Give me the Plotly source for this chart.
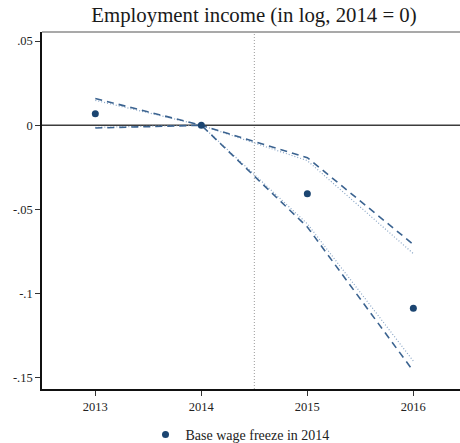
import plotly.graph_objects as go

# Event-study estimates: employment income (log, 2014 = 0)
years = [2013, 2014, 2015, 2016]
estimate = [0.0069, 0.0, -0.0406, -0.1087]

# Confidence bands (dashed) and alternative bands (dotted)
ci_upper_dash = [0.0159, 0.0, -0.0192, -0.0708]
ci_lower_dash = [-0.0016, 0.0, -0.0604, -0.1460]
ci_upper_dot = [0.0148, 0.0, -0.0210, -0.0762]
ci_lower_dot = [-0.0012, 0.0, -0.0585, -0.1400]

y_tick_vals = [0.05, 0.0, -0.05, -0.10, -0.15]
y_tick_text = [".05", "0", "-.05", "-.1", "-.15"]
x_tick_vals = [2013, 2014, 2015, 2016]
x_tick_text = ["2013", "2014", "2015", "2016"]

dash_color = "#3b6390"
dot_color = "#8aa6c6"
marker_color = "#1b4571"
font_family = "Liberation Serif"

fig = go.Figure()

for band in (ci_upper_dot, ci_lower_dot):
    fig.add_trace(go.Scatter(
        x=years, y=band, mode="lines", showlegend=False, hoverinfo="skip",
        line=dict(color=dot_color, width=1.2, dash="1px,2px"),
    ))

for band in (ci_upper_dash, ci_lower_dash):
    fig.add_trace(go.Scatter(
        x=years, y=band, mode="lines", showlegend=False, hoverinfo="skip",
        line=dict(color=dash_color, width=1.6, dash="7px,5px"),
    ))

fig.add_trace(go.Scatter(
    x=years, y=estimate, mode="markers", name="Base wage freeze in 2014",
    marker=dict(color=marker_color, size=7),
))

# Reference lines: zero, treatment timing, and top frame
fig.add_shape(type="line", xref="paper", yref="y", x0=0, x1=1, y0=0, y1=0,
              line=dict(color="#3c3c3c", width=1.6), layer="below")
fig.add_shape(type="line", xref="x", yref="paper", x0=2014.5, x1=2014.5, y0=0, y1=1,
              line=dict(color="#9a9a9a", width=1, dash="1px,2px"), layer="below")
fig.add_shape(type="line", xref="paper", yref="paper", x0=0, x1=1, y0=1, y1=1,
              line=dict(color="#8c8c8c", width=1.5))

fig.update_layout(
    width=460, height=443,
    margin=dict(l=42, r=0, t=32, b=54, autoexpand=False),
    paper_bgcolor="white", plot_bgcolor="white",
    font=dict(family=font_family, color="#222222"),
    title=dict(text="Employment income (in log, 2014 = 0)",
               x=254 / 460, xanchor="center", xref="container",
               y=1 - 15 / 443, yanchor="middle", yref="container",
               font=dict(family=font_family, size=20.8, color="#1a1a1a")),
    xaxis=dict(range=[2012.497, 2016.44], tickvals=x_tick_vals, ticktext=x_tick_text,
               showgrid=False, zeroline=False, showline=True, linecolor="#111111",
               linewidth=1.5, ticks="outside", ticklen=5, tickcolor="#333333",
               tickfont=dict(family=font_family, size=12.5, color="#222222")),
    yaxis=dict(range=[-0.1566, 0.0554], tickvals=y_tick_vals, ticktext=y_tick_text,
               showgrid=False, zeroline=False, showline=True, linecolor="#111111",
               linewidth=1.5, ticks="outside", ticklen=5, tickcolor="#333333",
               tickfont=dict(family=font_family, size=12.5, color="#222222")),
    showlegend=True,
    legend=dict(orientation="h", x=240 / 460, xanchor="center", xref="container",
                y=1 - 435 / 443, yanchor="middle", yref="container",
                font=dict(family=font_family, size=14, color="#222222"),
                bgcolor="rgba(0,0,0,0)", itemwidth=30),
)

fig.write_html("out.html")
